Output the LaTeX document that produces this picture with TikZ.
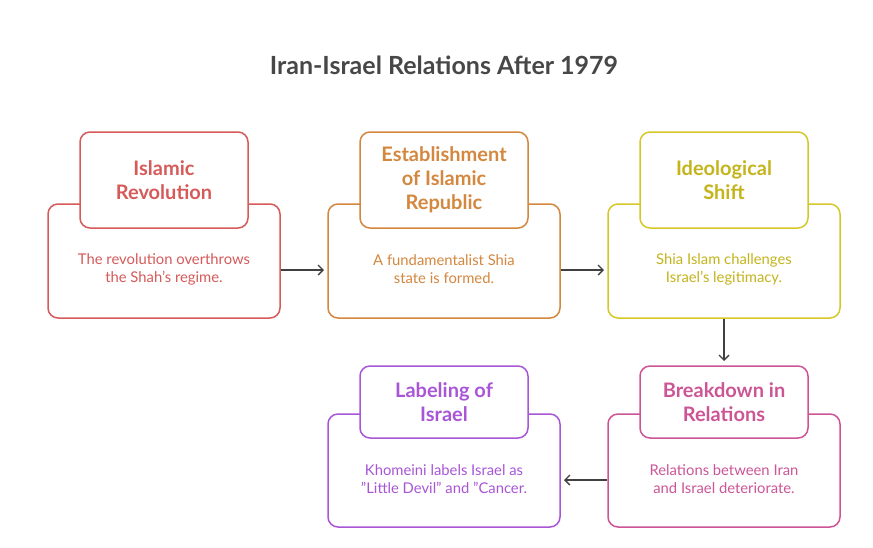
\documentclass[tikz,border=0pt]{standalone}
\usepackage{fontspec}
\setmainfont{Lato}
\usetikzlibrary{arrows.meta}
\definecolor{cr}{HTML}{D65A5A}
\definecolor{co}{HTML}{D4873F}
\definecolor{cy}{HTML}{D6C82A}
\definecolor{cyt}{HTML}{C4B41C}
\definecolor{cp}{HTML}{CC5596}
\definecolor{cv}{HTML}{A856D6}
\tikzset{
 lower/.style={draw=#1, line width=1.5pt, rounded corners=10pt, fill=white},
 header/.style={draw=#1, line width=1.5pt, rounded corners=10pt, fill=white},
 htext/.style={text=#1, font=\fontsize{20}{24}\selectfont\bfseries, align=center},
 btext/.style={text=#1, font=\fontsize{14.8}{18}\selectfont, align=center},
 conn/.style={-{Straight Barb[length=5pt,width=10pt]}, draw=black!75, line width=1.3pt}
}
\begin{document}
\begin{tikzpicture}[x=1pt,y=-1pt]
\useasboundingbox[fill=white] (0,0) rectangle (873,547);
\node[text=black!72, font=\fontsize{25}{28}\selectfont\bfseries] (title) at (444,65) {Iran-Israel Relations After 1979};
% lower boxes
\draw[lower=cr] (48,204) rectangle (280,318);
\draw[lower=co] (328,204) rectangle (560,318);
\draw[lower=cy] (608,204) rectangle (840,318);
\draw[lower=cp] (608,414) rectangle (840,527);
\draw[lower=cv] (328,414) rectangle (560,527);
% headers
\draw[header=cr] (80,132) rectangle (248,228);
\draw[header=co] (360,132) rectangle (528,228);
\draw[header=cy] (640,132) rectangle (808,228);
\draw[header=cp] (640,366) rectangle (808,438);
\draw[header=cv] (360,366) rectangle (528,438);
% header texts
\node[htext=cr] (h1) at (164,180) {Islamic\\Revolution};
\node[htext=co] (h2) at (444,180) {Establishment\\of Islamic\\Republic};
\node[htext=cyt] (h3) at (724,180) {Ideological\\Shift};
\node[htext=cp] (h4) at (724,402) {Breakdown in\\Relations};
\node[htext=cv] (h5) at (444,402) {Labeling of\\Israel};
% body texts
\node[btext=cr] (b1) at (164,269) {The revolution overthrows\\the Shah's regime.};
\node[btext=co] (b2) at (444,269) {A fundamentalist Shia\\state is formed.};
\node[btext=cyt] (b3) at (724,269) {Shia Islam challenges\\Israel's legitimacy.};
\node[btext=cp] (b4) at (724,479) {Relations between Iran\\and Israel deteriorate.};
\node[btext=cv] (b5) at (444,479) {Khomeini labels Israel as\\\symbol{34}Little Devil\symbol{34} and \symbol{34}Cancer.};
% connectors
\coordinate (a1s) at (281,270); \coordinate (a1e) at (324,270);
\coordinate (a2s) at (561,270); \coordinate (a2e) at (604,270);
\coordinate (a3s) at (724,319); \coordinate (a3e) at (724,361);
\coordinate (a4s) at (607,480); \coordinate (a4e) at (564,480);
\draw[conn] (a1s) -- (a1e);
\draw[conn] (a2s) -- (a2e);
\draw[conn] (a3s) -- (a3e);
\draw[conn] (a4s) -- (a4e);
\end{tikzpicture}
\end{document}
